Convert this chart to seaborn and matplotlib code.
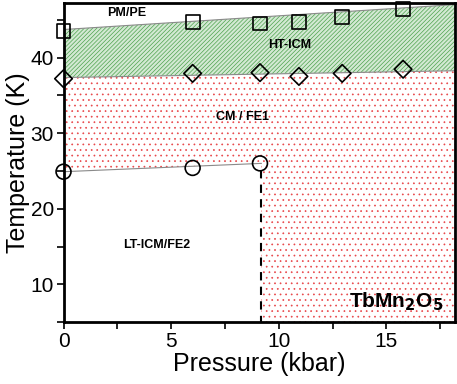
import numpy as np
import pandas as pd
import seaborn as sns
import matplotlib.pyplot as plt
from matplotlib.ticker import MultipleLocator

# phase boundary points
p_sq = [0.0, 6.0, 9.13, 10.94, 12.95, 15.78]
t_sq = [43.5, 44.7, 44.5, 44.7, 45.3, 46.4]

p_dia = [0.0, 6.0, 9.13, 10.94, 12.95, 15.78]
t_dia = [37.2, 37.9, 38.0, 37.5, 37.9, 38.45]

p_circ = [0.0, 6.0, 9.13]
t_circ = [24.9, 25.4, 26.0]

# guide lines (end points)
upper_p = [0.0, 18.2]
upper_t = [43.7, 47.0]
mid_p = [0.0, 18.2]
mid_t = [37.35, 38.25]
low_p = [0.0, 9.2]
low_t = [24.9, 26.0]
p_crit = 9.2

phase_labels = ['PM/PE', 'HT-ICM', 'CM / FE1', 'LT-ICM/FE2']
label_pos = [(2.95, 45.9), (10.5, 41.6), (8.3, 32.1), (4.35, 15.2)]

sns.set_style('ticks', {'axes.edgecolor': 'black', 'text.color': 'black',
                        'xtick.color': 'black', 'ytick.color': 'black',
                        'axes.labelcolor': 'black'})
plt.rcParams['font.family'] = ['Liberation Sans', 'DejaVu Sans']
plt.rcParams['hatch.linewidth'] = 0.5

fig = plt.figure(figsize=(4.57, 3.84), dpi=100)
ax = fig.add_axes([0.139, 0.161, 0.857, 0.831])

xmin, xmax, ymin, ymax = 0, 18.2, 5, 47.2

# green hatched HT-ICM region
ax.fill_between(upper_p, mid_t, upper_t, facecolor='#d3e9d3', edgecolor='#4ea34e',
                hatch='////////', linewidth=0, zorder=1)

# red dotted CM/FE1 region
xs = [0.0, p_crit, p_crit, xmax]
top = np.interp(xs, mid_p, mid_t)
bot = [low_t[0], low_t[1], ymin, ymin]
ax.fill_between(xs, bot, top, facecolor='white', edgecolor='#e8474a',
                hatch='...', linewidth=0, zorder=1)

# thin gray guide lines
ax.plot(upper_p, upper_t, color='#8a8a8a', lw=0.8, zorder=2)
ax.plot(mid_p, mid_t, color='#8a8a8a', lw=0.8, zorder=2)
ax.plot(low_p, low_t, color='#8a8a8a', lw=0.8, zorder=2)
ax.plot([p_crit, p_crit], [low_t[1] - 0.9, ymin], color='black', lw=1.5,
        ls=(0, (4, 3)), zorder=2)

df_sq = pd.DataFrame({'p': p_sq, 't': t_sq})
df_dia = pd.DataFrame({'p': p_dia, 't': t_dia})
df_circ = pd.DataFrame({'p': p_circ, 't': t_circ})
for d, m, s in [(df_sq, 's', 100), (df_dia, 'D', 80), (df_circ, 'o', 115)]:
    sns.scatterplot(data=d, x='p', y='t', marker=m, s=s, facecolor='none',
                    edgecolor='black', linewidth=1.2, zorder=5, clip_on=False, ax=ax)

for lab, (x, y) in zip(phase_labels, label_pos):
    ax.text(x, y, lab, fontsize=9, fontweight='bold', ha='center', va='center', zorder=6)
ax.text(17.65, 6.2, r'TbMn$_\mathbf{2}$O$_\mathbf{5}$', fontsize=15, fontweight='bold',
        ha='right', va='bottom', zorder=6)

ax.set_xlim(xmin, xmax)
ax.set_ylim(ymin, ymax)
ax.xaxis.set_major_locator(MultipleLocator(5))
ax.xaxis.set_minor_locator(MultipleLocator(2.5))
ax.yaxis.set_major_locator(MultipleLocator(10))
ax.yaxis.set_minor_locator(MultipleLocator(5))
ax.tick_params(which='both', direction='out', width=1.2, length=5, labelsize=15, pad=2)
ax.set_xlabel('Pressure (kbar)', fontsize=18, labelpad=1)
ax.set_ylabel('Temperature (K)', fontsize=18, labelpad=0)
for sp in ax.spines.values():
    sp.set_linewidth(2)
    sp.set_visible(True)

fig.savefig('out.png', dpi=100)
